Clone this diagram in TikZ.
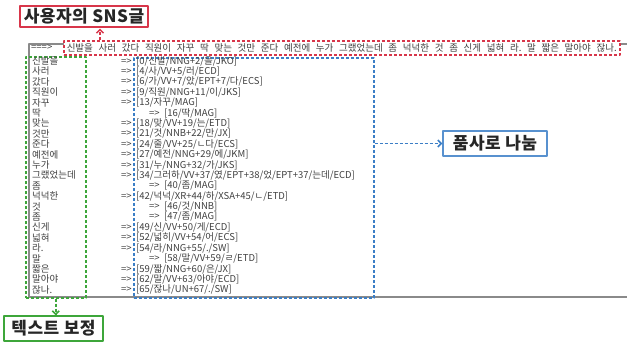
\documentclass[tikz,border=0pt]{standalone}
\usepackage{fontspec}
\setmainfont{Noto Sans CJK KR}
\usepackage{tikz}
\usetikzlibrary{arrows.meta,positioning}
\definecolor{snsred}{HTML}{D8364A}
\definecolor{fixgreen}{HTML}{3DA63A}
\definecolor{posblue}{HTML}{3B7EC6}
\definecolor{consink}{HTML}{404040}
\definecolor{consframe}{HTML}{8A8A8A}
\newcommand\arr{=>\hspace{4.5pt}}

\begin{document}
\begin{tikzpicture}[x=1pt,y=-1pt,line join=round,text=consink,
  labelbox/.style={draw,line width=1.3pt,fill=white,inner sep=0pt,
    font=\fontsize{17}{17}\selectfont\bfseries\addfontfeatures{LetterSpace=3},text=black!85},
  area/.style={draw,line width=1.5pt,dash pattern=on 3pt off 2pt,inner sep=0pt},
  link/.style={line width=1.5pt,dash pattern=on 3pt off 2pt,
    -{Straight Barb[length=3.5pt,width=7pt]}},
  word/.style={anchor=west,inner sep=0pt,font=\fontsize{9.5}{10}\selectfont},
  morph/.style={anchor=west,inner sep=0pt,font=\fontsize{9.5}{10}\selectfont}]
\path[use as bounding box] (0,0) rectangle (627,343);
\fill[white] (0,0) rectangle (627,343);
% console window
\draw[consframe,line width=1.3pt] (627,44) -- (29,44) -- (29,297) -- (627,297);
\node[word] (prompt) at (31,47.5) {===>};
\node[area,draw=snsred,fill=white,anchor=north west,minimum height=14pt,
  inner xsep=3pt,font=\fontsize{9.5}{10}\selectfont\frenchspacing] (sent) at (63,40)
  {\makebox[550pt][s]{신발을 사러 갔다 직원이 자꾸 딱 맞는 것만 준다 예전에 누가 그랬었는데 좀 넉넉한 것 좀 신게 넓혀 라. 말 짧은 말아야 잖나.}};
% dashed areas
\node[area,draw=fixgreen,anchor=north west,minimum width=60pt,minimum height=241pt] (wordbox) at (25,56) {};
\node[area,draw=posblue,anchor=north west,minimum width=240pt,minimum height=240pt] (morphbox) at (133,57) {};
% rows
\foreach \w [count=\i] in {신발을,사러,갔다,직원이,자꾸,딱,맞는,것만,준다,예전에,누가,그랬었는데,
  좀,넉넉한,것,좀,신게,넓혀,라.,말,짧은,말아야,잖나.}
  \node[word] (w\i) at (32,{61+10.4*(\i-1)}) {\w};
\foreach \m [count=\i] in {{\arr[0/신발/NNG+2/을/JKO]},{\arr[4/사/VV+5/러/ECD]},
  {\arr[6/가/VV+7/았/EPT+7/다/ECS]},{\arr[9/직원/NNG+11/이/JKS]},{\arr[13/자꾸/MAG]},
  {\hspace*{28pt}\arr[16/딱/MAG]},{\arr[18/맞/VV+19/는/ETD]},{\arr[21/것/NNB+22/만/JX]},
  {\arr[24/줄/VV+25/ㄴ다/ECS]},{\arr[27/예전/NNG+29/에/JKM]},{\arr[31/누/NNG+32/가/JKS]},
  {\arr[34/그러하/VV+37/였/EPT+38/었/EPT+37/는데/ECD]},{\hspace*{28pt}\arr[40/좀/MAG]},
  {\arr[42/넉넉/XR+44/하/XSA+45/ㄴ/ETD]},{\hspace*{28pt}\arr[46/것/NNB]},
  {\hspace*{28pt}\arr[47/좀/MAG]},{\arr[49/신/VV+50/게/ECD]},{\arr[52/넓히/VV+54/어/ECS]},
  {\arr[54/라/NNG+55/./SW]},{\hspace*{28pt}\arr[58/말/VV+59/ㄹ/ETD]},
  {\arr[59/짧/NNG+60/은/JX]},{\arr[62/말/VV+63/아야/ECD]},{\arr[65/잖나/UN+67/./SW]}}
  \node[morph] (m\i) at (121,{61+10.4*(\i-1)}) {\m};
% labels
\node[labelbox,draw=snsred,minimum width=128pt,minimum height=21pt] (sns) at (84,16.5) {사용자의 SNS글};
\node[labelbox,draw=fixgreen,minimum width=99pt,minimum height=25pt] (fix) at (53.5,328.5) {텍스트 보정};
\node[labelbox,draw=posblue!85,minimum width=104pt,minimum height=25pt] (pos) at (495,143.5) {품사로 나눔};
\coordinate (snstip) at (100,28.5);
\draw[link,snsred] (sent.north -| snstip) -- (snstip);
\draw[link,fixgreen] (wordbox.south) -- (wordbox.south |- fix.north);
\draw[link,posblue] (pos.west -| morphbox.east) -- (pos.west);
\end{tikzpicture}
\end{document}
